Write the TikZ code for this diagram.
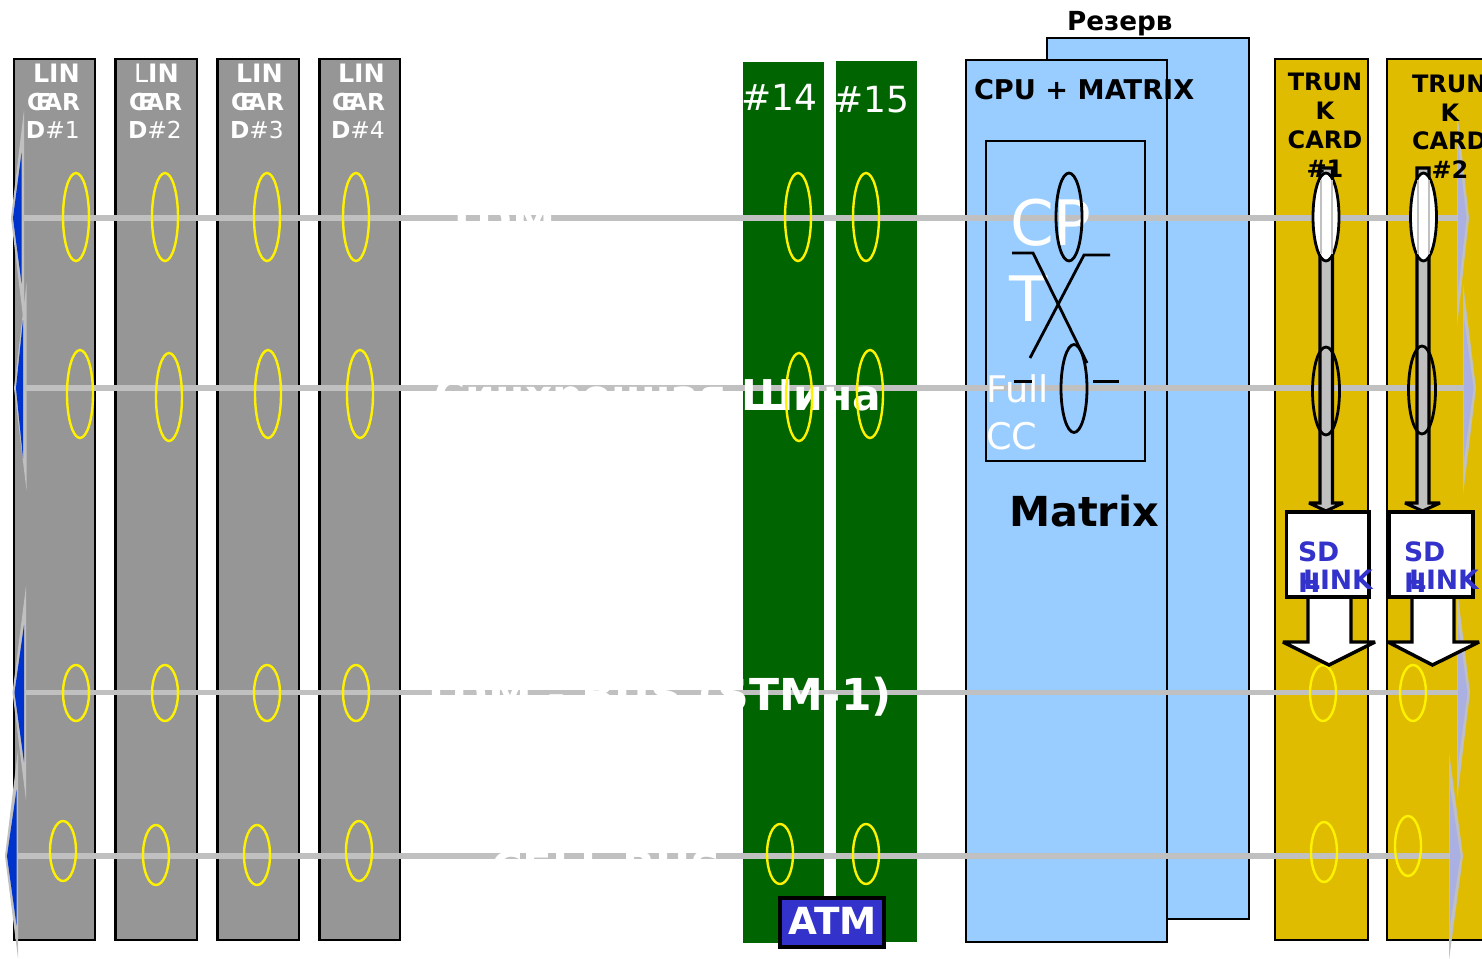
\documentclass[tikz,border=0pt]{standalone}
\usepackage{fontspec}
\setmainfont{DejaVu Sans}
\definecolor{cardgrey}{HTML}{969696}
\definecolor{busgreen}{HTML}{006400}
\definecolor{cpublue}{HTML}{99CCFF}
\definecolor{trunkgold}{HTML}{DFBC00}
\definecolor{busgrey}{HTML}{C0C0C0}
\definecolor{headblue}{HTML}{0033CC}
\definecolor{headpale}{HTML}{AAB0E2}
\definecolor{labelblue}{HTML}{3333CC}
\newcommand{\fsz}[1]{\fontsize{#1}{#1}\selectfont}
\newcommand{\headL}[8]{% tip x,y; outer x, top, bottom; inner x, top, bottom
  \fill[busgrey] (#1,#2) -- (#3,#4) -- (#3,#5) -- cycle;
  \fill[headblue] (#1+2,#2) -- (#6,#7) -- (#6,#8) -- cycle;}
\newcommand{\headR}[5]{% tip x,y; base x, top, bottom
  \fill[busgrey] (#1,#2) -- (#3,#4) -- (#3,#5) -- cycle;
  \fill[headpale] (#1-2.5,#2) -- (#3+1,#4+35) -- (#3+1,#5-35) -- cycle;}
\tikzset{
  x=0.75pt,y=-0.75pt,
  lbl/.style={anchor=base west,inner sep=0pt,outer sep=0pt},
  lblr/.style={anchor=base east,inner sep=0pt,outer sep=0pt},
  lblc/.style={anchor=base,inner sep=0pt,outer sep=0pt},
  card/.style={fill=cardgrey,draw=black,line width=2.2pt},
  slot/.style={fill=busgreen},
  cpubox/.style={fill=cpublue,draw=black,line width=2.2pt},
  trunkbox/.style={fill=trunkgold,draw=black,line width=2.1pt},
  bus/.style={draw=busgrey,line width=4.2pt},
  ringy/.style={draw=yellow,line width=1.8pt},
  ringk/.style={draw=black,line width=2.1pt},
  wire/.style={draw=black,line width=2.1pt},
  cardtxt/.style={lbl,text=white,font=\fsz{17.5}\bfseries},
  cardtop/.style={lbl,text=white,font=\fsz{19}\bfseries},
  cardreg/.style={lbl,text=white,font=\fsz{19}},
  trunktxt/.style={lblc,text=black,font=\fsz{18}\bfseries},
  sdhtxt/.style={lbl,text=labelblue,font=\fsz{20}\bfseries},
  bustxt/.style={lbl,text=white,font=\fsz{32.5}\bfseries},
  flow/.style={fill=busgrey,draw=black,line width=2.3pt,miter limit=2},
  sdhbox/.style={fill=white,draw=black,line width=2.6pt,miter limit=2},
}
\begin{document}
\begin{tikzpicture}
\clip (0,0) rectangle (1482,958);
\fill[white] (0,0) rectangle (1482,958);
% line cards
\draw[card] (14,59) rectangle (95,940);
\draw[card] (115.5,59) rectangle (197,940);
\draw[card] (217.5,59) rectangle (299,940);
\draw[card] (319.5,59) rectangle (400,940);
% green slots
\fill[slot] (743,62) rectangle (824,943);
\fill[slot] (836,61) rectangle (917,942);
% cpu
\draw[cpubox] (1047,38) rectangle (1249,919);
\draw[cpubox] (966,60) rectangle (1167,942);
\draw[draw=black,line width=2.2pt] (986,141) rectangle (1145,461);
% trunk cards
\draw[trunkbox] (1275,59) rectangle (1368,940);
\draw[trunkbox] (1387,59) rectangle (1490,940);
% bus end coordinates
\coordinate (b1l) at (22,218); \coordinate (b1r) at (1458,218);
\coordinate (b2l) at (25,388); \coordinate (b2r) at (1464,388);
\coordinate (b3l) at (25,692.5); \coordinate (b3r) at (1459,692.5);
\coordinate (b4l) at (17,856); \coordinate (b4r) at (1451,856);
\draw[bus] (b1l) -- (b1r);
\draw[bus] (b2l) -- (b2r);
\draw[bus] (b3l) -- (b3r);
\draw[bus] (b4l) -- (b4r);
% arrow heads
\headL{11}{218}{24}{110}{325}{21.5}{153}{283}
\headL{14}{388}{26.5}{283}{490}{23}{320}{458}
\headL{12.5}{692.5}{26}{586}{800}{24}{625}{762}
\headL{5}{856}{18}{750}{958}{16.5}{790}{925}
\headR{1469}{218}{1457}{110}{327}
\headR{1476}{388}{1463}{283}{495}
\headR{1470}{692.5}{1457}{588}{800}
\headR{1463}{856}{1449}{752}{960}
% bus titles (white)
\node[bustxt] (t1) at (447,236) {TDM};
\node[bustxt,lblr,font=\fsz{31.8}\bfseries] (t2) at (881,410) {Синхронная Шина};
\node[bustxt,lblr,font=\fsz{33}\bfseries] (t3) at (892,710) {TDM - BUS (STM-1)};
\node[bustxt] (t4) at (491,883) {CELL BUS};
% line card labels
\node[cardtop] (l1a) at (33,82) {LIN};
\node[cardtxt] (l1b) at (36,110) {E};
\node[cardtxt] (l1c) at (27,110) {CAR};
\node[cardtxt] (l1d) at (26,138) {D\mdseries\#1};
\node[cardreg] (l2a) at (134,82) {L\bfseries IN};
\node[cardtxt] (l2b) at (138,110) {E};
\node[cardtxt] (l2c) at (129,110) {CAR};
\node[cardtxt] (l2d) at (128,138) {D\mdseries\#2};
\node[cardtop] (l3a) at (236,82) {LIN};
\node[cardtxt] (l3b) at (240,110) {E};
\node[cardtxt] (l3c) at (231,110) {CAR};
\node[cardtxt] (l3d) at (230,138) {D\mdseries\#3};
\node[cardtop] (l4a) at (338,82) {LIN};
\node[cardtxt] (l4b) at (341,110) {E};
\node[cardtxt] (l4c) at (332,110) {CAR};
\node[cardtxt] (l4d) at (331,138) {D\mdseries\#4};
% slot labels
\node[lbl,text=white,font=\fsz{27}] (s14) at (741,110) {\#14};
\node[lbl,text=white,font=\fsz{27}] (s15) at (833,112) {\#15};
% cpu labels
\node[lbl,text=black,font=\fsz{19.7}\bfseries] (rez) at (1067,30) {Резерв};
\node[lbl,text=black,font=\fsz{20.4}\bfseries] (cpum) at (974,99) {CPU + MATRIX};
\node[lbl,text=black,font=\fsz{31}\bfseries] (mtx) at (1009,526) {Matrix};
\node[lbl,text=white,font=\fsz{47}] (cp) at (1010,245) {CP};
\node[lbl,text=white,font=\fsz{47}] (cpt) at (1009,321) {T};
\node[lbl,text=white,font=\fsz{27.5}] (fu) at (986,402) {Full};
\node[lbl,text=white,font=\fsz{27.5}] (cc) at (986,449) {CC};
% cross-connect
\draw[ringk] (1069,217) ellipse (13 and 44);
\draw[ringk] (1074,388.5) ellipse (13 and 44);
\draw[wire] (1012,253) -- (1033,253) -- (1087,363);
\draw[wire] (1030,358) -- (1084,255) -- (1110,255);
\draw[wire] (1014,381.5) -- (1032,381.5);
\draw[wire] (1093,381.5) -- (1119,381.5);
% yellow rings
\foreach \cx/\cy/\ry in {76/217/44,165/217/44,267/217/44,356/217/44,798/217/44,866/217/44,
  80/394/44,169/397/44,268/394/44,360/394/44,799/397/44,870/394/44,
  76/693/28,165/693/28,267/693/28,356/693/28,1323/693/28,1413/693/28,
  63/851/30,156/855/30,257/855/30,359/851/30,780/854/30,866/854/30,1324/852/30,1408/846/30}
  \draw[ringy] (\cx,\cy) ellipse (13 and \ry);
% trunk flow arrows
\draw[flow] (1320,168) -- (1332.5,168) -- (1332.5,503) -- (1343,503) -- (1326,511) -- (1309,503) -- (1320,503) -- cycle;
\draw[flow] (1417,168) -- (1429,168) -- (1429,503) -- (1440,503) -- (1422.5,511) -- (1405,503) -- (1417,503) -- cycle;
\draw[ringk,fill=white] (1326,217) ellipse (13 and 44);
\draw[ringk,fill=white] (1423.5,217) ellipse (13 and 44);
\draw[busgrey,line width=0.8pt] (1321,180) -- (1321,254) (1332,180) -- (1332,254);
\draw[busgrey,line width=0.8pt] (1418,180) -- (1418,254) (1429,180) -- (1429,254);
\draw[ringk] (1326,391) ellipse (13.5 and 44);
\draw[ringk] (1422,390) ellipse (13.5 and 44);
% trunk labels
\node[trunktxt] (tr1a) at (1325,90) {TRUN};
\node[trunktxt] (tr1b) at (1325,119) {K};
\node[trunktxt] (tr1c) at (1325,148) {CARD};
\node[trunktxt] (tr1d) at (1325,177) {\#1};
\node[lbl,text=black,font=\fsz{18}\bfseries] (tr2a) at (1412,92) {TRUN};
\node[trunktxt] (tr2b) at (1450,121) {K};
\node[lbl,text=black,font=\fsz{18}\bfseries] (tr2c) at (1412,149) {CARD};
\node[trunktxt] (tr2d) at (1450,178) {\#2};
% SDH boxes and outlets
\draw[sdhbox] (1308,597) -- (1308,642) -- (1283,642) -- (1329,665) -- (1375,642) -- (1351,642) -- (1351,597);
\draw[sdhbox] (1412,597) -- (1412,642) -- (1388,642) -- (1432.5,665) -- (1479,642) -- (1454,642) -- (1454,597);
\draw[sdhbox] (1286.5,512) rectangle (1369,597);
\draw[sdhbox] (1389.5,512) rectangle (1473,597);
\node[sdhtxt] (sd1) at (1298,561) {SD};
\node[sdhtxt] (h1) at (1298,592) {H};
\node[sdhtxt] (li1) at (1303,589) {LINK};
\node[sdhtxt] (sd2) at (1404,561) {SD};
\node[sdhtxt] (h2) at (1404,592) {H};
\node[sdhtxt] (li2) at (1409,589) {LINK};
% atm
\node[fill=labelblue,draw=black,line width=2.6pt,minimum width=78pt,minimum height=36.5pt,inner sep=0pt] (atmbox) at (832,922.5) {};
\node[lbl,text=white,font=\fsz{28}\bfseries] (atm) at (788,934) {ATM};
\end{tikzpicture}
\end{document}
